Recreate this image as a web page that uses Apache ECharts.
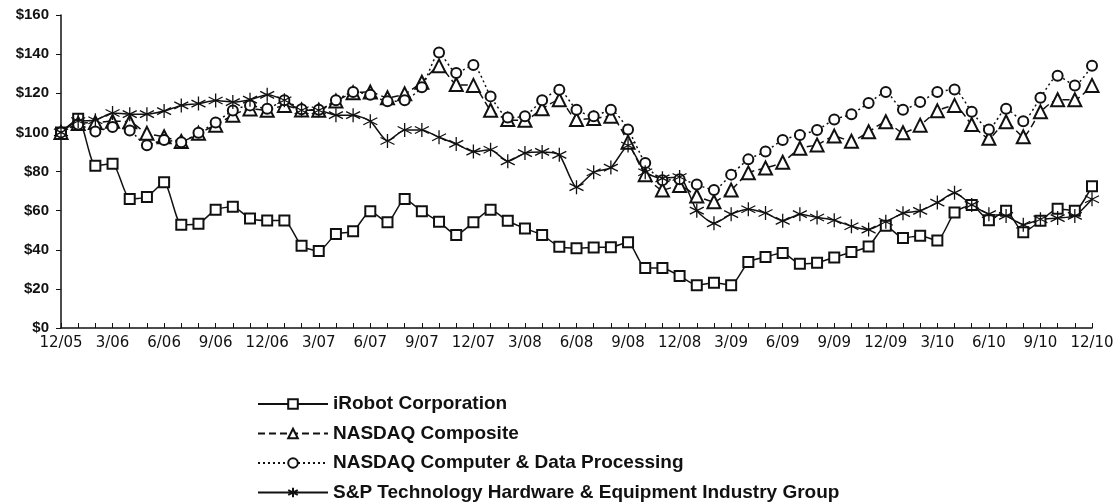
<!DOCTYPE html>
<html>
<head>
<meta charset="utf-8">
<script src="https://cdn.jsdelivr.net/npm/echarts@6/dist/echarts.min.js"></script>
<style>
  html, body { margin: 0; padding: 0; background: #fff; }
  #chart { width: 1120px; height: 503px; }
</style>
</head>
<body>
<div id="chart"></div>
<script>
// months 12/05 .. 12/10
var months = [
  "12/05","1/06","2/06","3/06","4/06","5/06","6/06","7/06","8/06","9/06","10/06","11/06",
  "12/06","1/07","2/07","3/07","4/07","5/07","6/07","7/07","8/07","9/07","10/07","11/07",
  "12/07","1/08","2/08","3/08","4/08","5/08","6/08","7/08","8/08","9/08","10/08","11/08",
  "12/08","1/09","2/09","3/09","4/09","5/09","6/09","7/09","8/09","9/09","10/09","11/09",
  "12/09","1/10","2/10","3/10","4/10","5/10","6/10","7/10","8/10","9/10","10/10","11/10",
  "12/10"
];

var irobot = [100,107,83,84,66,67,74.5,52.8,53.3,60.5,62,56,
  55,55,42,39.3,48,49.4,59.7,54,66,59.7,54.3,47.6,
  54,60.4,54.8,50.9,47.6,41.5,40.8,41.2,41.3,43.8,30.7,30.7,
  26.6,21.9,23.1,21.9,33.7,36.3,38.3,32.9,33.4,36.1,38.8,41.7,
  52.3,46,47.2,44.7,59,62.9,55.1,59.9,48.9,54.8,61,59.9,
  72.5];

var nasdaqComp = [100,104.5,105,105.7,105.4,99.5,97.8,95.3,99.5,103.7,108.8,112,
  111.3,113.8,111.5,111.3,116,120.2,120.6,117.7,119.7,125.6,134,124.5,
  124,111.3,106.6,106.2,112.1,116.7,106.6,107.1,108.3,95,78.4,70.5,
  72.8,67.5,64.5,70.5,79.3,81.8,84.7,91.9,93.6,98.1,95.5,100.3,
  105.4,99.8,103.7,111,113.8,104,97,105.4,97.8,110.5,116.7,116.7,
  124];

var nasdaqCdp = [100,104,100.5,102.7,101,93.4,96.1,95,99.8,105,111.2,113.8,
  112.1,116.4,111.8,111.6,116.4,120.6,119.2,115.9,116.4,123.1,140.8,130.4,
  134.4,118.4,107.6,108.3,116.4,121.8,111.6,108.3,111.6,101.5,84.3,75.5,
  76,73.3,70.5,78.4,86.2,90.2,96.1,98.7,101.2,106.6,109.3,115,
  120.6,111.6,115.5,120.6,121.9,110.5,101.5,112.1,105.7,117.7,129,124,
  134];

var spTech = [100,105.8,106.2,109.9,109.3,109.3,110.9,113.8,114.7,116.3,115.5,116.7,
  119.2,116.4,111.3,111.3,108.8,108.8,105.7,95.6,101.2,101.2,97.5,94.1,
  90.2,91.1,85.2,89.4,90,88.5,72,79.6,82,93.3,79.6,76.5,
  77.2,60,53.5,58.2,60.7,58.8,54.8,58.2,56.5,55.1,52,50.3,
  54.3,58.7,59.9,64.1,69.1,62.9,58.2,57.3,52.8,55.6,56.2,57.3,
  65.8];

var seriesNames = [
  "iRobot Corporation",
  "NASDAQ Composite",
  "NASDAQ Computer & Data Processing",
  "S&P Technology Hardware & Equipment Industry Group"
];

var ink = "#111";
var asterisk = "path://M0,-10L0,10M-8.66,-5L8.66,5M-8.66,5L8.66,-5";

var makeSeries = function(name, data, symbol, size, dash){
  return {
    name: name,
    type: 'line',
    data: data,
    smooth: 0.2,
    symbol: symbol,
    symbolSize: size,
    showSymbol: true,
    showAllSymbol: true,
    lineStyle: { color: ink, width: 1.5, type: dash },
    itemStyle: { color: ink, borderColor: ink, borderWidth: 1.3 },
    emphasis: { disabled: true }
  };
};

var chart = echarts.init(document.getElementById('chart'));
var option = {
  animation: false,
  backgroundColor: '#fff',
  grid: { left: 61, right: 28, top: 15, bottom: 175 },
  legend: {
    orient: 'vertical',
    left: 257,
    top: 394.5,
    height: 120,
    padding: 0,
    itemWidth: 70,
    itemHeight: 12,
    itemGap: 10.5,
    selectedMode: false,
    textStyle: {
      fontFamily: 'Liberation Sans',
      fontWeight: 'bold',
      fontSize: 19,
      lineHeight: 19,
      color: ink
    },
    data: seriesNames
  },
  xAxis: {
    type: 'category',
    data: months,
    boundaryGap: false,
    axisLine: { lineStyle: { color: ink, width: 1.5 } },
    axisTick: { interval: 0, inside: true, length: 5, lineStyle: { color: ink } },
    axisLabel: {
      interval: 2,
      margin: 8,
      color: ink,
      fontFamily: 'DejaVu Sans',
      fontSize: 15
    },
    splitLine: { show: false }
  },
  yAxis: {
    type: 'value',
    min: 0,
    max: 160,
    interval: 20,
    axisLine: { show: true, lineStyle: { color: ink, width: 1.5 } },
    axisTick: { show: true, length: 5, lineStyle: { color: ink } },
    axisLabel: {
      formatter: '${value}',
      margin: 12,
      color: ink,
      fontFamily: 'Liberation Sans',
      fontWeight: 'bold',
      fontSize: 15
    },
    splitLine: { show: false }
  },
  series: [
    makeSeries(seriesNames[0], irobot, 'emptyRect', 10, 'solid'),
    makeSeries(seriesNames[1], nasdaqComp, 'emptyTriangle', 13, [7, 4]),
    makeSeries(seriesNames[2], nasdaqCdp, 'emptyCircle', 10, [2, 3]),
    makeSeries(seriesNames[3], spTech, asterisk, 14, 'solid')
  ]
};
chart.setOption(option);
</script>
</body>
</html>
